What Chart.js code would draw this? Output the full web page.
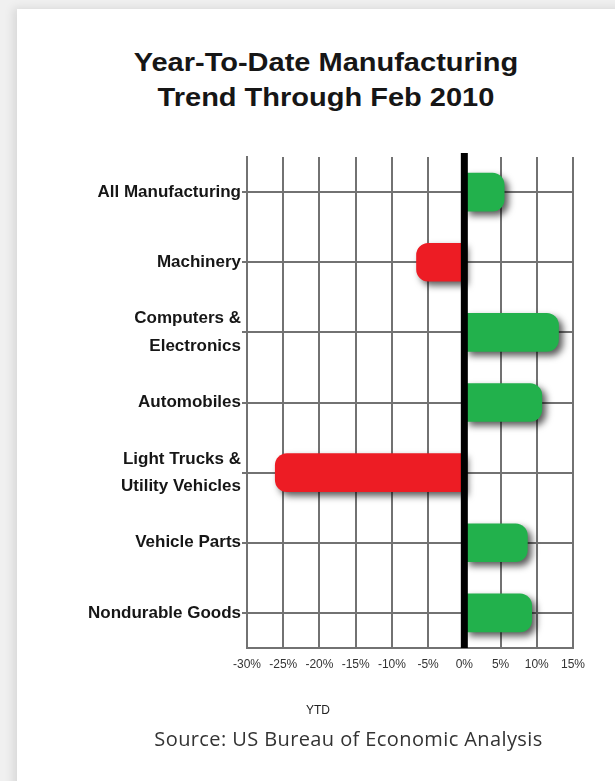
<!DOCTYPE html>
<html>
<head>
<meta charset="utf-8">
<script src="https://cdn.jsdelivr.net/npm/chart.js@4/dist/chart.umd.min.js"></script>
<style>
  html, body { margin: 0; padding: 0; }
  body { width: 615px; height: 781px; overflow: hidden; position: relative; background: #f0f0f0; }
  #card { position: absolute; left: 17px; top: 9px; width: 640px; height: 800px; background: #fff;
          box-shadow: -4px -1px 9px rgba(0,0,0,0.10); }
  #title { position: absolute; left: 0; top: 45px; width: 652px; text-align: center;
           font: bold 25px 'Liberation Sans', Arial, sans-serif; line-height: 35px; color: #161616;
           transform: scaleX(1.16); transform-origin: 326px 0; }
  #chart { position: absolute; left: 0; top: 0; }
  #ytd { position: absolute; left: 0; width: 636px; top: 703px; text-align: center;
         font: 12px 'Liberation Sans', sans-serif; color: #222; }
  #source { position: absolute; left: 0; width: 697px; top: 725px; text-align: center;
            font: 20px 'Open Sans', sans-serif; letter-spacing: 0.4px; color: #333; }
</style>
</head>
<body>
<div id="card"></div>
<div id="title">Year-To-Date Manufacturing<br>Trend Through Feb 2010</div>
<canvas id="chart" width="615" height="781"></canvas>
<div id="ytd">YTD</div>
<div id="source">Source: US Bureau of Economic Analysis</div>
<script>
// Industry groups, one bar each (multi-line labels as arrays)
const categories = [
  'All Manufacturing',
  'Machinery',
  ['Computers &', 'Electronics'],
  'Automobiles',
  ['Light Trucks &', 'Utility Vehicles'],
  'Vehicle Parts',
  'Nondurable Goods'
];
// Year-to-date change, percent
const ytdChange = [5.5, -6.6, 13.0, 10.7, -26.1, 8.7, 9.3];
// Axis range and tick step, percent
const axisMin = -30;
const axisMax = 15;
const axisStep = 5;

const GREEN = '#22b14c';
const RED = '#ed1c24';
const GRID = '#727272';

// Soft drop shadow beneath the bars, then a heavy zero line over them
const barShadow = {
  id: 'barShadow',
  beforeDatasetsDraw(chart) {
    const ctx = chart.ctx;
    ctx.save();
    ctx.shadowColor = 'rgba(0,0,0,0.65)';
    ctx.shadowBlur = 7;
    ctx.shadowOffsetX = 4;
    ctx.shadowOffsetY = 4;
  },
  afterDatasetsDraw(chart) {
    const ctx = chart.ctx;
    ctx.restore();
    const x = chart.scales.x.getPixelForValue(0);
    const area = chart.chartArea;
    ctx.save();
    ctx.strokeStyle = '#000';
    ctx.lineWidth = 7;
    ctx.beginPath();
    ctx.moveTo(x, area.top - 4);
    ctx.lineTo(x, area.bottom);
    ctx.stroke();
    ctx.restore();
  }
};

new Chart(document.getElementById('chart'), {
  type: 'bar',
  data: {
    labels: categories,
    datasets: [{
      data: ytdChange,
      backgroundColor: ytdChange.map(v => v >= 0 ? GREEN : RED),
      borderWidth: 0,
      borderRadius: 12,
      barThickness: 38
    }]
  },
  options: {
    indexAxis: 'y',
    responsive: false,
    animation: false,
    devicePixelRatio: 1,
    layout: { padding: { top: 157, right: 42, bottom: 103, left: 0 } },
    plugins: { legend: { display: false }, tooltip: { enabled: false } },
    scales: {
      x: {
        min: axisMin,
        max: axisMax,
        afterFit(scale) { scale.height = 30; },
        ticks: {
          stepSize: axisStep,
          padding: 9,
          maxRotation: 0,
          minRotation: 0,
          autoSkip: false,
          color: '#333',
          font: { family: "'Liberation Sans', sans-serif", size: 12 },
          callback: v => v + '%'
        },
        grid: { color: GRID, lineWidth: 2, drawTicks: false },
        border: { color: GRID, width: 2 }
      },
      y: {
        afterFit(scale) { scale.width = 247; },
        ticks: {
          padding: 1,
          color: '#161616',
          font: { family: "'Liberation Sans', sans-serif", size: 17, weight: 'bold', lineHeight: 1.62 }
        },
        grid: { color: GRID, lineWidth: 2, offset: false, tickLength: 5 },
        border: { color: GRID, width: 2 }
      }
    }
  },
  plugins: [barShadow]
});
</script>
</body>
</html>
